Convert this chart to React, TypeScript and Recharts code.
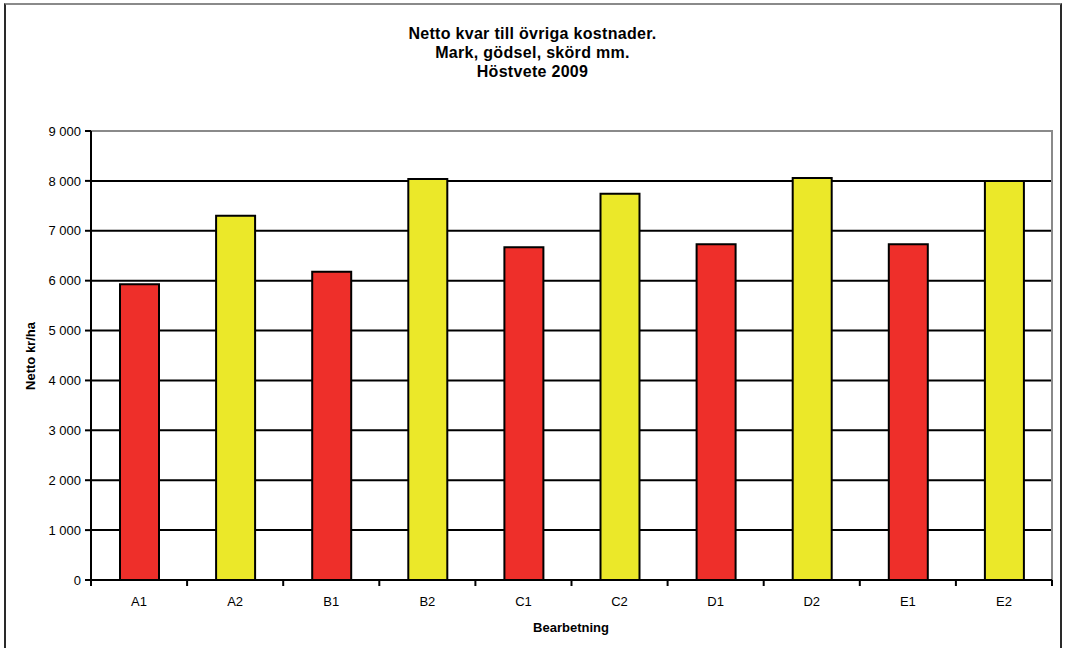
import { BarChart, Bar, Cell, XAxis, YAxis, CartesianGrid, ReferenceArea } from 'recharts'

// Höstvete 2009 – netto kr/ha per bearbetning
const categories = ['A1', 'A2', 'B1', 'B2', 'C1', 'C2', 'D1', 'D2', 'E1', 'E2']
const netto = [5930, 7300, 6180, 8040, 6670, 7740, 6730, 8060, 6730, 8000]
const yTicks = [0, 1000, 2000, 3000, 4000, 5000, 6000, 7000, 8000, 9000]
const gridValues = [1000, 2000, 3000, 4000, 5000, 6000, 7000, 8000]
const titleLines = ['Netto kvar till övriga kostnader.', 'Mark, gödsel, skörd mm.', 'Höstvete 2009']

const RED = '#EE2F2A'
const YELLOW = '#EBE829'
const FONT = '"Liberation Sans", Arial, sans-serif'

const data = categories.map((name, i) => ({ name, netto: netto[i] }))

const fmt = (v: number) => String(v).replace(/\B(?=(\d{3})+(?!\d))/g, ' ')

// category label plus Excel-style tick marks on the band boundaries
function CategoryTick(props: any) {
  const { x, y, payload, index, visibleTicksCount } = props
  const half = payload?.offset || 48
  const axisY = y - 17
  return (
    <g>
      <line x1={x - half} x2={x - half} y1={axisY} y2={axisY + 6} stroke="#000" strokeWidth={2} />
      {index === visibleTicksCount - 1 && (
        <line x1={x + half} x2={x + half} y1={axisY} y2={axisY + 6} stroke="#000" strokeWidth={2} />
      )}
      <text x={x} y={y} dy="0.71em" textAnchor="middle" fontSize={13} fontFamily={FONT} fill="#000">
        {payload.value}
      </text>
    </g>
  )
}

export default function App() {
  return (
    <div style={{ position: 'relative', width: 1065, height: 648, overflow: 'hidden', background: '#fff', fontFamily: FONT }}>
      <style>{'body{margin:0}'}</style>
      <div
        style={{
          position: 'absolute', left: 4, top: 3, width: 1054, height: 700,
          borderLeft: '2px solid #2a2a2a', borderRight: '2px solid #2a2a2a', borderTop: '2px solid #8a8a8a',
        }}
      />
      <div
        style={{
          position: 'absolute', left: 0, top: 24, width: 1065, textAlign: 'center',
          fontWeight: 'bold', fontSize: 16, letterSpacing: 0.3, lineHeight: '19px',
        }}
      >
        {titleLines.map((t) => <div key={t}>{t}</div>)}
      </div>
      <div
        style={{
          position: 'absolute', left: 30, top: 356, transform: 'translate(-50%, -50%) rotate(-90deg)',
          fontWeight: 'bold', fontSize: 13, whiteSpace: 'nowrap',
        }}
      >
        Netto kr/ha
      </div>
      <div style={{ position: 'absolute', left: 571, top: 627, transform: 'translate(-50%, -50%)', fontWeight: 'bold', fontSize: 13, whiteSpace: 'nowrap' }}>
        Bearbetning
      </div>
      <div style={{ position: 'absolute', left: 0, top: 0 }}>
        <BarChart width={1065} height={648} data={data} margin={{ top: 131, right: 13, left: 31, bottom: 0 }}>
          <CartesianGrid vertical={false} stroke="#000" strokeWidth={2} horizontalValues={gridValues} />
          {/* grey plot-area frame; left and bottom edges sit under the black axes */}
          <ReferenceArea y1={0} y2={9000} fill="none" stroke="#8a8a8a" strokeWidth={2} />
          <XAxis
            dataKey="name"
            height={68}
            interval={0}
            tickSize={6}
            tickMargin={11}
            tickLine={{ stroke: 'none' }}
            axisLine={{ stroke: '#000', strokeWidth: 2 }}
            tick={<CategoryTick />}
          />
          <YAxis
            width={60}
            domain={[0, 9000]}
            ticks={yTicks}
            interval={0}
            tickSize={6}
            tickMargin={4}
            tickFormatter={fmt}
            tick={{ fill: '#000', fontSize: 13, fontFamily: FONT }}
            tickLine={{ stroke: '#000', strokeWidth: 2 }}
            axisLine={{ stroke: '#000', strokeWidth: 2 }}
          />
          <Bar dataKey="netto" barSize={39} stroke="#000" strokeWidth={2} isAnimationActive={false}>
            {data.map((d, i) => <Cell key={d.name} fill={i % 2 === 0 ? RED : YELLOW} />)}
          </Bar>
        </BarChart>
      </div>
    </div>
  )
}
